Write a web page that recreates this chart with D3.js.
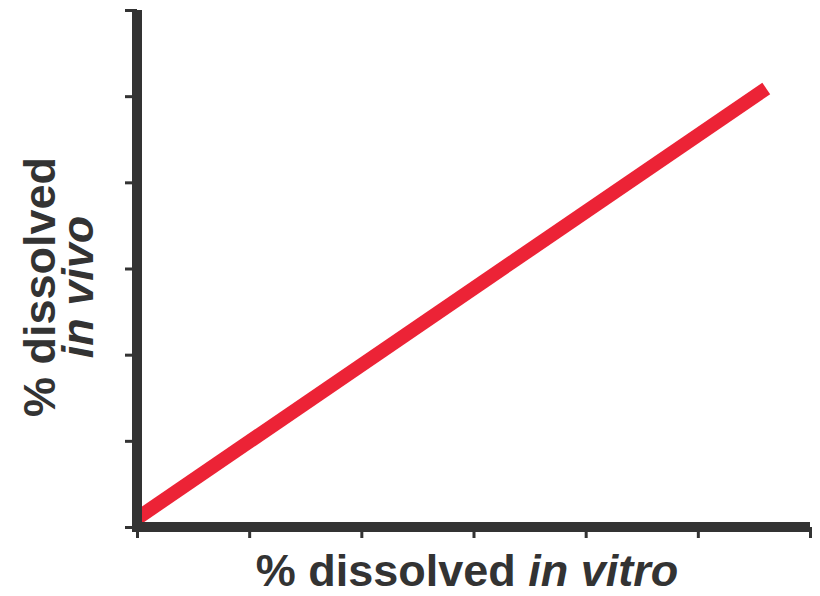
<!DOCTYPE html>
<html>
<head>
<meta charset="utf-8">
<script src="https://cdn.jsdelivr.net/npm/d3@7"></script>
<style>
  html, body { margin: 0; padding: 0; background: #fff; }
  svg { display: block; }
</style>
</head>
<body>
<svg id="chart" width="820" height="596"></svg>
<script>
// Data
const xTicks = [0, 1, 2, 3, 4, 5, 6];
const yTicks = [0, 1, 2, 3, 4, 5, 6];
const inVitro = [0, 5.61];
const inVivo = [0.1, 5.09];
const xLabelMain = "% dissolved ";
const xLabelItalic = "in vitro";
const yLabelMain = "% dissolved";
const yLabelItalic = "in vivo";

const svg = d3.select("#chart");
const axisColor = "#333333";
const lineColor = "#ec2336";
const font = "'Liberation Sans', Arial, Helvetica, sans-serif";

const x = d3.scaleLinear().domain([0, 6]).range([137, 810]);
const y = d3.scaleLinear().domain([0, 6]).range([527, 10]);

// Line (under axes)
const pts = inVitro.map((v, i) => [v, inVivo[i]]);
svg.append("path")
  .datum(pts)
  .attr("d", d3.line().x(d => x(d[0])).y(d => y(d[1])))
  .attr("fill", "none")
  .attr("stroke", lineColor)
  .attr("stroke-width", 14)
  .attr("stroke-linecap", "butt");

// Y axis ticks
const yAxis = svg.append("g")
  .attr("transform", `translate(${x(0)},0)`)
  .call(d3.axisLeft(y).tickValues(yTicks).tickSize(12).tickSizeOuter(0).tickFormat(""));
yAxis.select(".domain").remove();
yAxis.selectAll(".tick line").attr("stroke", axisColor).attr("stroke-width", 3);

// X axis ticks
const xAxis = svg.append("g")
  .attr("transform", `translate(0,${y(0)})`)
  .call(d3.axisBottom(x).tickValues(xTicks).tickSize(11).tickSizeOuter(0).tickFormat(""));
xAxis.select(".domain").remove();
xAxis.selectAll(".tick line").attr("stroke", axisColor).attr("stroke-width", 3);

// Thick axis lines
svg.append("line")
  .attr("x1", x(0)).attr("x2", x(0))
  .attr("y1", y(6)).attr("y2", y(0) + 5)
  .attr("stroke", axisColor).attr("stroke-width", 10);
svg.append("line")
  .attr("x1", x(0) - 5).attr("x2", x(6))
  .attr("y1", y(0)).attr("y2", y(0))
  .attr("stroke", axisColor).attr("stroke-width", 10);

// X label
const xl = svg.append("text")
  .attr("x", 467).attr("y", 586)
  .attr("text-anchor", "middle")
  .attr("font-family", font)
  .attr("font-weight", "bold")
  .attr("font-size", 45)
  .attr("fill", axisColor);
xl.append("tspan").text(xLabelMain);
xl.append("tspan").attr("font-style", "italic").text(xLabelItalic);

// Y label
const yl = svg.append("g").attr("transform", "translate(55,287) rotate(-90)");
yl.append("text")
  .attr("x", 0).attr("y", 0)
  .attr("text-anchor", "middle")
  .attr("font-family", font)
  .attr("font-weight", "bold")
  .attr("font-size", 45)
  .attr("fill", axisColor)
  .text(yLabelMain);
yl.append("text")
  .attr("x", 0).attr("y", 38)
  .attr("text-anchor", "middle")
  .attr("font-family", font)
  .attr("font-weight", "bold")
  .attr("font-style", "italic")
  .attr("font-size", 45)
  .attr("fill", axisColor)
  .text(yLabelItalic);
</script>
</body>
</html>
